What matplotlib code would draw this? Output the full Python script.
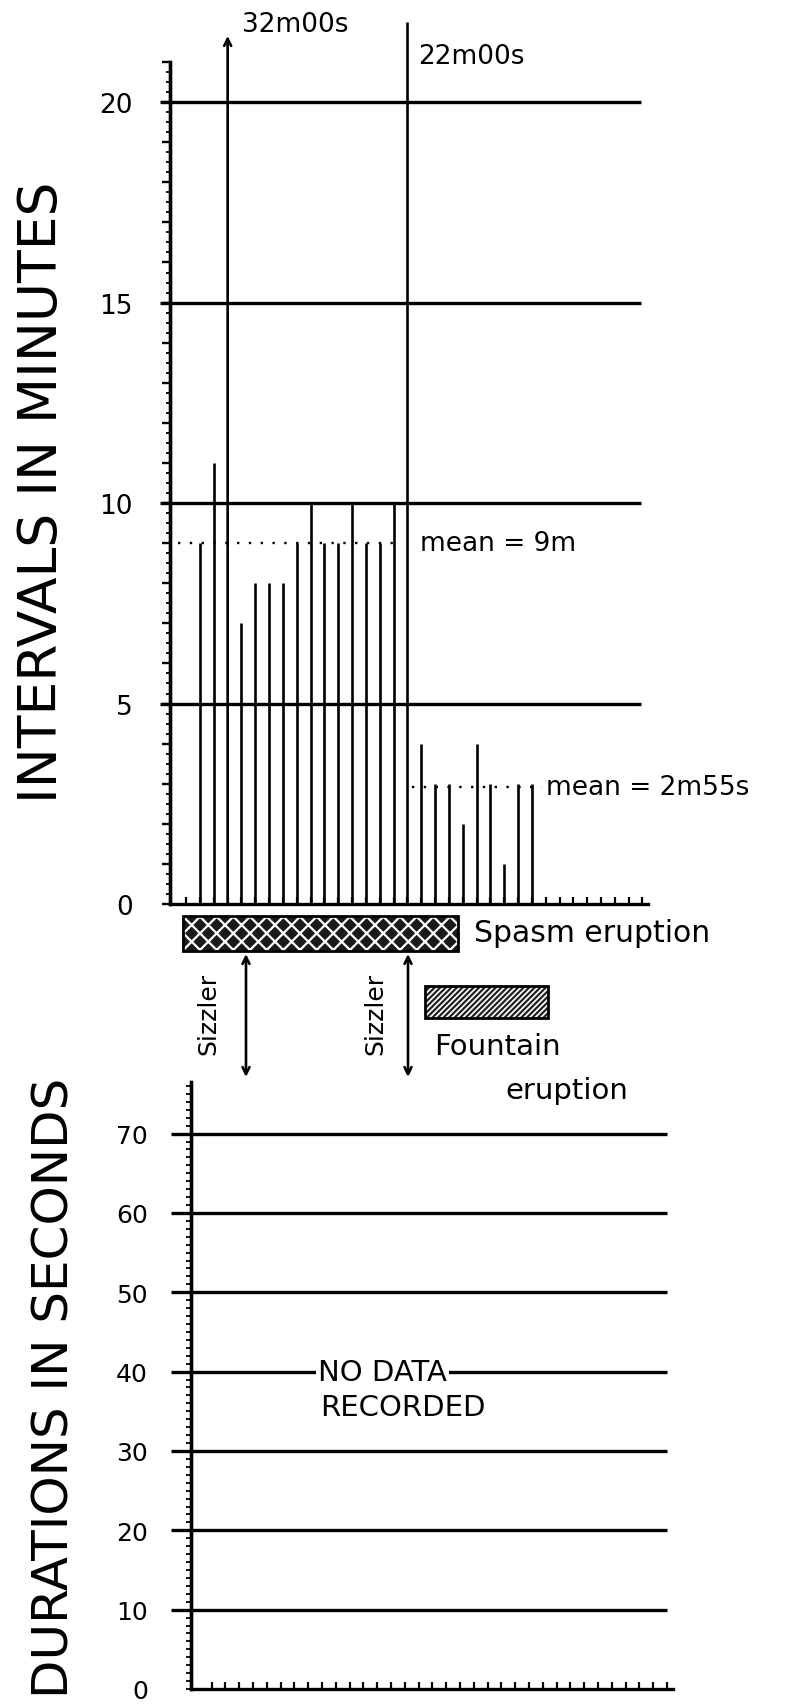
import matplotlib
matplotlib.use("Agg")
import matplotlib.pyplot as plt
import numpy as np
from matplotlib.patches import Rectangle
from matplotlib.ticker import MultipleLocator, NullFormatter

plt.rcParams['font.family'] = ['DejaVu Sans']
plt.rcParams['hatch.linewidth'] = 1.6

# ---------------- data ----------------
eruption_no = list(range(1, 26))
intervals_min = [9, 11, 32, 7, 8, 8, 8, 9, 10, 9, 9, 10, 9, 9, 10, 22,
                 4, 3, 3, 2, 4, 3, 1, 3, 3]
spasm_range = (1, 16)          # eruption numbers of the spasm phase
fountain_range = (17, 25)      # eruption numbers of the fountain phase
mean_values = [9.0, 2 + 55 / 60]
mean_labels = ['mean = 9m', 'mean = 2m55s']
interval_ticks = [0, 5, 10, 15, 20]
duration_ticks = [0, 10, 20, 30, 40, 50, 60, 70]
ylabel_top = 'INTERVALS IN MINUTES'
ylabel_bottom = 'DURATIONS IN SECONDS'

# ---------------- layout helpers ----------------
W, H = 799, 1706
fig = plt.figure(figsize=(W / 100, H / 100), dpi=100)


def fx(x):
    return x / W


def fy(y):
    return 1 - y / H


LW_GRID = 2.4
LW_BAR = 1.9
LW_SPINE = 2.4
FS_TICK = 19
FS = 20

# ---------------- top chart: intervals ----------------
ax1 = fig.add_axes([fx(170), fy(905), fx(648) - fx(170), fy(63) - fy(905)])
ax1.set_xlim(-1.17, 33.4)
ax1.set_ylim(0, 21)
for s in ['top', 'right']:
    ax1.spines[s].set_visible(False)
for s in ['left', 'bottom']:
    ax1.spines[s].set_linewidth(LW_SPINE)
ax1.set_xticks(np.arange(0, 34))
ax1.xaxis.set_major_formatter(NullFormatter())
ax1.tick_params(axis='x', direction='in', length=5, width=1.6)
ax1.set_yticks(interval_ticks)
ax1.set_yticklabels([str(t) for t in interval_ticks], fontsize=FS_TICK)
ax1.tick_params(axis='y', length=0, pad=27)

sec1 = ax1.secondary_yaxis('left')
sec1.yaxis.set_major_locator(MultipleLocator(1))
sec1.yaxis.set_minor_locator(MultipleLocator(0.25))
sec1.yaxis.set_major_formatter(NullFormatter())
sec1.tick_params(which='major', direction='out', length=6, width=1.7)
sec1.tick_params(which='minor', direction='out', length=3, width=1.3)
sec1.spines['left'].set_linewidth(LW_SPINE)

ax1.hlines(interval_ticks[1:], -1.89, 32.9, colors='black', lw=LW_GRID, clip_on=False)

fig_top_val = 22.5   # data value at the top edge of the figure
arrow_tip = 21.65
for x, v in zip(eruption_no, intervals_min):
    if v > fig_top_val:
        ax1.annotate('', xy=(x, arrow_tip), xytext=(x, 0),
                     arrowprops=dict(arrowstyle='->,head_length=0.5,head_width=0.25',
                                     lw=LW_BAR, color='black', shrinkA=0, shrinkB=0),
                     annotation_clip=False)
        ax1.text(x + 1.05, arrow_tip + 0.3, f'{v}m00s', fontsize=FS - 1,
                 ha='left', va='center', clip_on=False)
    else:
        ax1.vlines(x, 0, v, colors='black', lw=LW_BAR, clip_on=False)
        if v > 21:
            ax1.text(x + 0.8, 21.15, f'{v}m00s', fontsize=FS - 1,
                     ha='left', va='center', clip_on=False)

# mean lines
ax1.hlines(mean_values[0], spasm_range[0] - 1.57, spasm_range[1] - 0.6,
           colors='black', lw=1.7, linestyles=(0, (1, 4)))
ax1.text(spasm_range[1] + 0.9, mean_values[0], mean_labels[0], fontsize=FS - 1,
         ha='left', va='center')
ax1.hlines(mean_values[1], fountain_range[0] - 0.65, fountain_range[1] + 0.7,
           colors='black', lw=1.7, linestyles=(0, (1, 4)))
ax1.text(fountain_range[1] + 1.05, mean_values[1], mean_labels[1], fontsize=FS - 1,
         ha='left', va='center', clip_on=False)

# ---------------- phase legend / annotations ----------------
spasm_bg = Rectangle((fx(183), fy(952)), fx(458) - fx(183), fy(917) - fy(952),
                     transform=fig.transFigure, facecolor='#1a1a1a', edgecolor='white',
                     hatch='xx', lw=0)
spasm_bd = Rectangle((fx(183), fy(952)), fx(458) - fx(183), fy(917) - fy(952),
                     transform=fig.transFigure, fill=False, edgecolor='black', lw=2)
fig.add_artist(spasm_bg)
fig.add_artist(spasm_bd)
fig.text(fx(474), fy(934), 'Spasm eruption', fontsize=FS + 1.5, ha='left', va='center')

fount_bg = Rectangle((fx(425), fy(1019)), fx(548) - fx(425), fy(987) - fy(1019),
                     transform=fig.transFigure, facecolor='white', edgecolor='#222222',
                     hatch='//////', lw=0)
fount_bd = Rectangle((fx(425), fy(1019)), fx(548) - fx(425), fy(987) - fy(1019),
                     transform=fig.transFigure, fill=False, edgecolor='black', lw=2)
fig.add_artist(fount_bg)
fig.add_artist(fount_bd)
fig.text(fx(434), fy(1047), 'Fountain', fontsize=FS + 1, ha='left', va='center')
fig.text(fx(505), fy(1091), 'eruption', fontsize=FS + 1, ha='left', va='center')

for tx, axx in [(208.5, 246), (375.5, 408)]:
    fig.text(fx(tx), fy(1014), 'Sizzler', rotation=90, fontsize=18,
             ha='center', va='center')
    ax1.annotate('', xy=(fx(axx), fy(955)), xytext=(fx(axx), fy(1078)),
                 xycoords='figure fraction', textcoords='figure fraction',
                 arrowprops=dict(arrowstyle='<->,head_length=0.5,head_width=0.25',
                                 lw=LW_BAR, color='black', shrinkA=0, shrinkB=0),
                 annotation_clip=False)

# ---------------- bottom chart: durations ----------------
ax2 = fig.add_axes([fx(191), fy(1690), fx(673) - fx(191), fy(1083) - fy(1690)])
ax2.set_xlim(-0.5, 34.43)
ax2.set_ylim(0, 76.5)
for s in ['top', 'right']:
    ax2.spines[s].set_visible(False)
for s in ['left', 'bottom']:
    ax2.spines[s].set_linewidth(LW_SPINE)
ax2.set_xticks(np.arange(1, 35))
ax2.xaxis.set_major_formatter(NullFormatter())
ax2.tick_params(axis='x', direction='in', length=5, width=1.6)
ax2.set_yticks(duration_ticks)
ax2.set_yticklabels([str(t) for t in duration_ticks], fontsize=FS_TICK - 1)
ax2.tick_params(axis='y', length=0, pad=31)

sec2 = ax2.secondary_yaxis('left')
sec2.yaxis.set_major_locator(MultipleLocator(1))
sec2.yaxis.set_major_formatter(NullFormatter())
sec2.tick_params(which='major', direction='out', length=3.5, width=1.3)
sec2.spines['left'].set_linewidth(LW_SPINE)

ax2.hlines(duration_ticks[1:], -1.95, 34.0, colors='black', lw=LW_GRID, clip_on=False)
ax2.text(8.7, 40, 'NO DATA', fontsize=21, ha='left', va='center',
         bbox=dict(facecolor='white', edgecolor='none', pad=1.5))
ax2.text(8.85, 35.6, 'RECORDED', fontsize=21, ha='left', va='center')

# ---------------- axis titles ----------------
fig.text(fx(42), fy(492), ylabel_top, rotation=90, fontsize=38.5,
         ha='center', va='center')
fig.text(fx(55), fy(1388), ylabel_bottom, rotation=90, fontsize=36,
         ha='center', va='center')

fig.savefig('out.png', dpi=100)
